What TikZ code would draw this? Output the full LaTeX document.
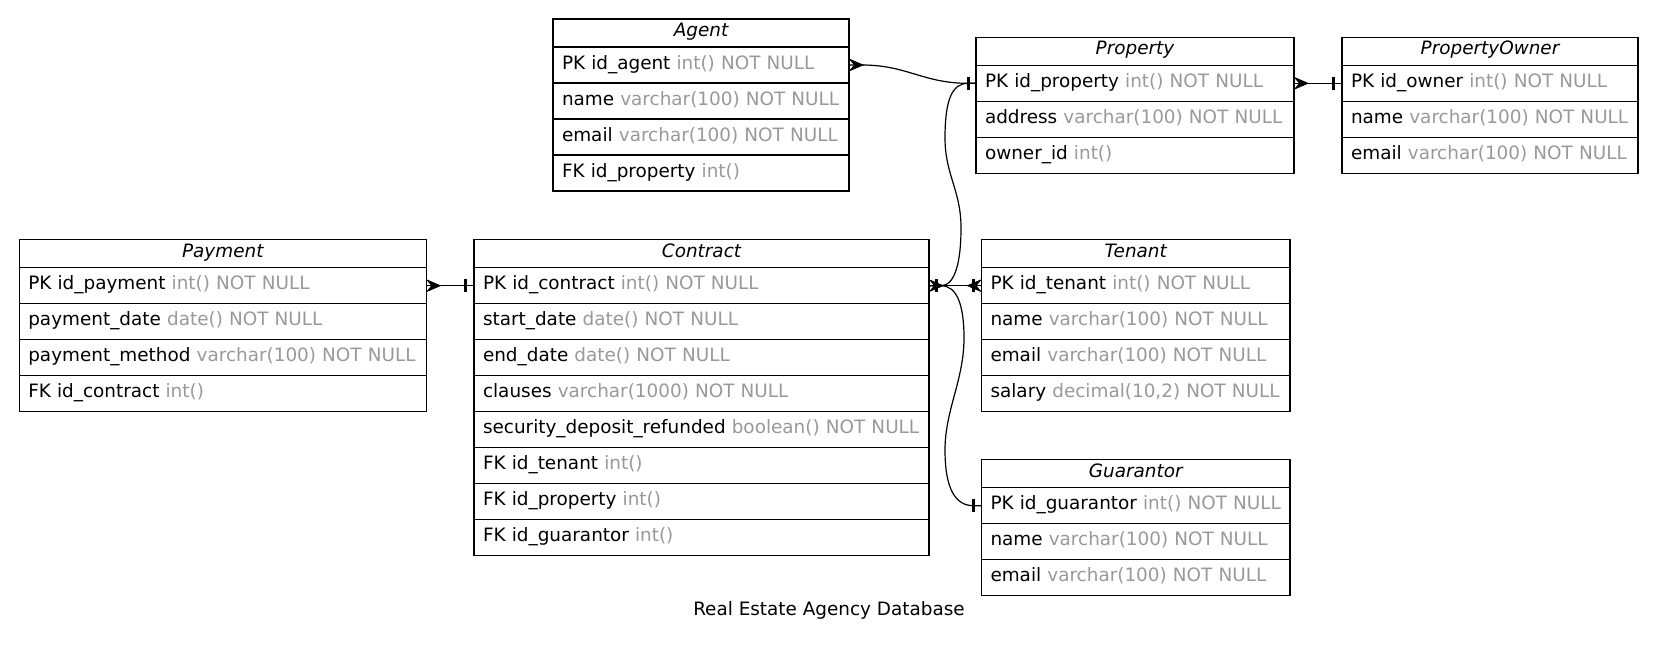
\documentclass[tikz,border=0pt]{standalone}
\usepackage{fontspec}
\setmainfont{DejaVu Sans}
\usetikzlibrary{calc}
\definecolor{typegray}{HTML}{999999}
\newcommand\ty[1]{\textcolor{typegray}{#1}}
\newcommand\erfont{\fontsize{18.4}{22}\selectfont}

% one entity table: name, left x, top y, width, title, {rows}
\newcommand\ertable[6]{%
  \pgfmathsetmacro\ertw{#4-18}%
  \node[hcell, minimum width=#4, text width=\ertw pt] (#1-h) at (#2,#3) {#5};
  \foreach \txt [count=\i] in {#6} {%
    \node[cell, minimum width=#4, text width=\ertw pt] (#1-\i) at (#2,{#3+28+36*(\i-1)}) {\txt};
  }%
}

\tikzset{
  cell/.style={draw=black, line width=1.1pt, inner sep=0pt, outer sep=0pt,
    anchor=north west, minimum height=36, text height=13, text depth=5,
    align=left, font=\erfont},
  hcell/.style={cell, minimum height=28, text height=12.5, text depth=5.5,
    align=center, font=\erfont\itshape},
  rel/.style={draw=black, line width=1.2pt},
  crowfoot/.pic={
    \fill (0,-6) -- (14,0) -- (0,6) -- (5,0) -- cycle;
    \draw[line width=0.8pt] (0,-6) -- (14,0) -- (0,6);
  },
  teebar/.pic={\draw[line width=3pt] (0,-6.5) -- (0,6.5);},
}

\begin{document}
\begin{tikzpicture}[x=1pt, y=-1pt, font=\erfont]
\useasboundingbox[fill=white] (0,0) rectangle (1657,646);

\ertable{agent}{553}{19}{296}{Agent}{
  {PK id\_agent \ty{int() NOT NULL}},
  {name \ty{varchar(100) NOT NULL}},
  {email \ty{varchar(100) NOT NULL}},
  {FK id\_property \ty{int()}}}

\ertable{property}{976}{37.3}{318}{Property}{
  {PK id\_property \ty{int() NOT NULL}},
  {address \ty{varchar(100) NOT NULL}},
  {owner\_id \ty{int()}}}

\ertable{owner}{1342}{37.3}{296}{PropertyOwner}{
  {PK id\_owner \ty{int() NOT NULL}},
  {name \ty{varchar(100) NOT NULL}},
  {email \ty{varchar(100) NOT NULL}}}

\ertable{payment}{19.3}{239.7}{407}{Payment}{
  {PK id\_payment \ty{int() NOT NULL}},
  {payment\_date \ty{date() NOT NULL}},
  {payment\_method \ty{varchar(100) NOT NULL}},
  {FK id\_contract \ty{int()}}}

\ertable{contract}{474}{239.7}{455}{Contract}{
  {PK id\_contract \ty{int() NOT NULL}},
  {start\_date \ty{date() NOT NULL}},
  {end\_date \ty{date() NOT NULL}},
  {clauses \ty{varchar(1000) NOT NULL}},
  {security\_deposit\_refunded \ty{boolean() NOT NULL}},
  {FK id\_tenant \ty{int()}},
  {FK id\_property \ty{int()}},
  {FK id\_guarantor \ty{int()}}}

\ertable{tenant}{981.5}{239.7}{308.5}{Tenant}{
  {PK id\_tenant \ty{int() NOT NULL}},
  {name \ty{varchar(100) NOT NULL}},
  {email \ty{varchar(100) NOT NULL}},
  {salary \ty{decimal(10,2) NOT NULL}}}

\ertable{guarantor}{981.5}{459.7}{308.5}{Guarantor}{
  {PK id\_guarantor \ty{int() NOT NULL}},
  {name \ty{varchar(100) NOT NULL}},
  {email \ty{varchar(100) NOT NULL}}}

% Agent -- Property
\draw[rel] (agent-1.east) -- ++(13,0)
  .. controls +(45,0) and +(-45,0) .. ($(property-1.west)+(-8,0)$) -- (property-1.west);
\pic at (agent-1.east) {crowfoot};
\pic at ($(property-1.west)+(-8,0)$) {teebar};

% Property -- PropertyOwner
\draw[rel] (property-1.east) -- (owner-1.west);
\pic at (property-1.east) {crowfoot};
\pic at ($(owner-1.west)+(-9,0)$) {teebar};

% Payment -- Contract
\draw[rel] (payment-1.east) -- (contract-1.west);
\pic at (payment-1.east) {crowfoot};
\pic at ($(contract-1.west)+(-9,0)$) {teebar};

% Contract -- Property
\draw[rel] (contract-1.east) -- ++(12,0)
  .. controls (955,285.7) and (961,262) .. (961,228)
  .. controls (961,190) and (945,175) .. (945,138)
  .. controls (945,100) and (952,83.3) .. (968,83.3) -- (property-1.west);

% Contract -- Guarantor
\draw[rel] (contract-1.east) -- ++(12,0)
  .. controls (957,285.7) and (964,305) .. (964,338)
  .. controls (964,380) and (945,410) .. (945,450)
  .. controls (945,490) and (956,505.7) .. ($(guarantor-1.west)+(-8,0)$) -- (guarantor-1.west);
\pic at ($(guarantor-1.west)+(-8,0)$) {teebar};

% Contract -- Tenant
\draw[rel] (contract-1.east) -- (tenant-1.west);
\pic at (contract-1.east) {crowfoot};
\pic at ($(contract-1.east)+(7,0)$) {teebar};
\pic[xscale=-1] at (tenant-1.west) {crowfoot};
\pic at ($(tenant-1.west)+(-8,0)$) {teebar};

\node[anchor=base, inner sep=0pt] (title) at (829,615.5) {Real Estate Agency Database};
\end{tikzpicture}
\end{document}
